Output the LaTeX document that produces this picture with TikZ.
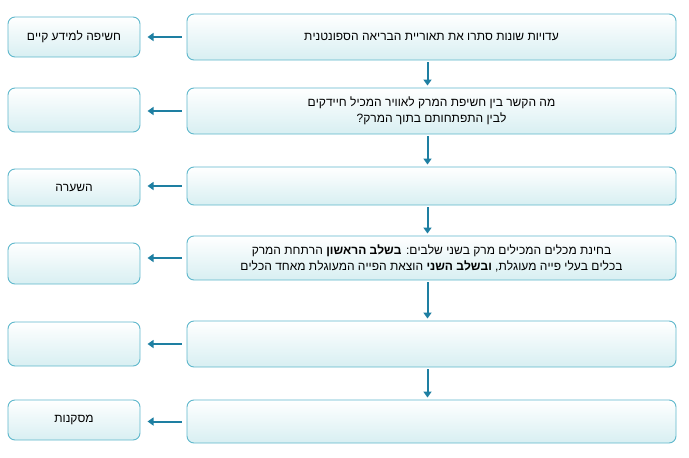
\documentclass[tikz,border=0pt]{standalone}
\usepackage{fontspec}
\setmainfont{Liberation Sans}
\TeXXeTstate=1
\usetikzlibrary{arrows.meta}
\definecolor{bd}{HTML}{5FB8CC}
\definecolor{fl}{HTML}{D8EFF2}
\definecolor{ar}{HTML}{1E7FA2}
\tikzset{x=1pt,y=-1pt,
 boxs/.style={draw=bd,line width=0.9pt,rounded corners=7pt,top color=white,bottom color=fl,inner sep=0pt,align=center,font=\fontsize{12}{16}\selectfont},
 arr/.style={draw=ar,line width=2pt,-{Triangle[length=6pt,width=8pt]}}}
\newcommand{\R}[1]{\beginR #1\endR}
\begin{document}
\begin{tikzpicture}
\useasboundingbox[fill=white] (0,0) rectangle (689,458);
% right boxes
\node[boxs,minimum width=489pt,minimum height=46pt] (r1) at (431.5,37) {\R{עדויות שונות סתרו את תאוריית הבריאה הספונטנית}};
\node[boxs,minimum width=489pt,minimum height=46pt] (r2) at (431.5,111) {\R{מה הקשר בין חשיפת המרק לאוויר המכיל חיידקים}\\\R{לבין התפתחותם בתוך המרק?}};
\node[boxs,minimum width=489pt,minimum height=38pt] (r3) at (431.5,186) {};
\node[boxs,minimum width=489pt,minimum height=44pt] (r4) at (431.5,258) {\R{בחינת מכלים המכילים מרק בשני שלבים: \textbf{בשלב הראשון} הרתחת המרק}\\\R{בכלים בעלי פייה מעוגלת, \textbf{ובשלב השני} הוצאת הפייה המעוגלת מאחד הכלים}};
\node[boxs,minimum width=489pt,minimum height=46pt] (r5) at (431.5,344) {};
\node[boxs,minimum width=489pt,minimum height=43pt] (r6) at (431.5,421.5) {};
% left boxes
\node[boxs,minimum width=132pt,minimum height=40pt] (l1) at (74,37) {\R{חשיפה למידע קיים}};
\node[boxs,minimum width=132pt,minimum height=44pt] (l2) at (74,110) {};
\node[boxs,minimum width=132pt,minimum height=37pt] (l3) at (74,187.5) {\R{השערה}};
\node[boxs,minimum width=132pt,minimum height=41pt] (l4) at (74,263.5) {};
\node[boxs,minimum width=132pt,minimum height=44pt] (l5) at (74,344) {};
\node[boxs,minimum width=132pt,minimum height=40pt] (l6) at (74,420) {\R{מסקנות}};
% horizontal arrows
\foreach \i in {1,...,6}{\draw[arr] ([xshift=-5pt]r\i.west) -- ([xshift=-39pt]r\i.west);}
% vertical arrows
\foreach \a/\b in {1/2,2/3,3/4,4/5,5/6}{
 \coordinate (s) at ([xshift=-4pt,yshift=-2pt]r\a.south);
 \coordinate (t) at ([yshift=2pt]r\b.north);
 \draw[arr] (s) -- (s |- t);}
\end{tikzpicture}
\end{document}
